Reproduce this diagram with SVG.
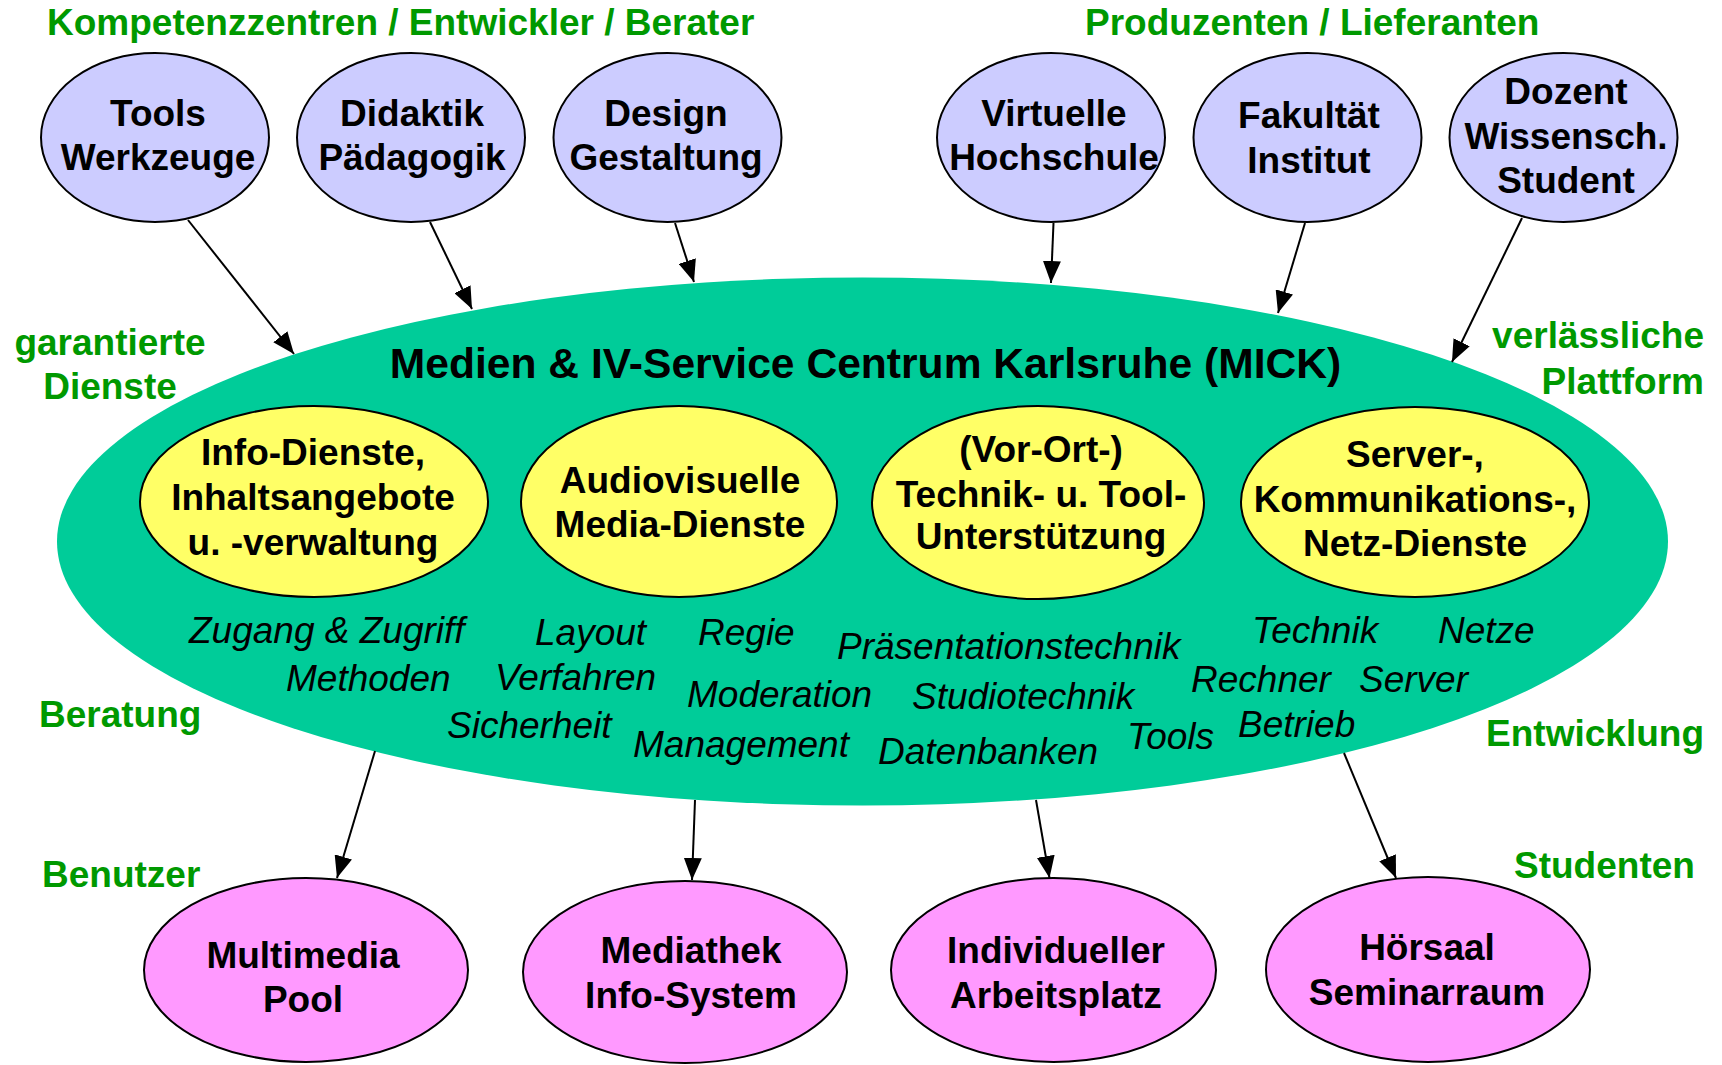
<svg xmlns="http://www.w3.org/2000/svg" width="1722" height="1065" viewBox="0 0 1722 1065">
<style>
.b{font-family:"Liberation Sans",Arial,sans-serif;font-weight:bold;font-size:37px;fill:#000;text-anchor:middle}
.t{font-size:42.6px}
.g{font-family:"Liberation Sans",Arial,sans-serif;font-weight:bold;font-size:37px;fill:#009900}
.i{font-family:"Liberation Sans",Arial,sans-serif;font-style:italic;font-size:37px;fill:#000}
.top{fill:#CCCCFF;stroke:#000;stroke-width:2}
.mid{fill:#FFFF66;stroke:#000;stroke-width:2}
.bot{fill:#FF99FF;stroke:#000;stroke-width:2}
.c line{stroke:#000;stroke-width:2;marker-end:url(#ah)}
</style>
<defs>
<marker id="ah" markerUnits="userSpaceOnUse" markerWidth="22" markerHeight="18" refX="22" refY="9" orient="auto">
<path d="M0,0 L22,9 L0,18 z" fill="#000"/>
</marker>
</defs>
<rect width="1722" height="1065" fill="#fff"/>

<g id="labels">
<text class="g" x="47" y="35">Kompetenzzentren / Entwickler / Berater</text>
<text class="g" x="1085" y="35">Produzenten / Lieferanten</text>
<text class="g" x="110" y="355" text-anchor="middle">garantierte</text>
<text class="g" x="110" y="399" text-anchor="middle">Dienste</text>
<text class="g" x="1704" y="348" text-anchor="end">verlässliche</text>
<text class="g" x="1704" y="394" text-anchor="end">Plattform</text>
<text class="g" x="39" y="727">Beratung</text>
<text class="g" x="1704" y="746" text-anchor="end">Entwicklung</text>
<text class="g" x="42" y="887">Benutzer</text>
<text class="g" x="1514" y="878">Studenten</text>
</g>

<g id="mick">
<ellipse cx="862.5" cy="541.5" rx="805.5" ry="264" fill="#00CC99"/>
<text class="b t" x="865.5" y="378">Medien &amp; IV-Service Centrum Karlsruhe (MICK)</text>
<g id="services">
<text class="i" x="189" y="643">Zugang &amp; Zugriff</text>
<text class="i" x="535" y="645">Layout</text>
<text class="i" x="698" y="645">Regie</text>
<text class="i" x="837" y="659">Präsentationstechnik</text>
<text class="i" x="1252" y="643">Technik</text>
<text class="i" x="1438" y="643">Netze</text>
<text class="i" x="286" y="691">Methoden</text>
<text class="i" x="495" y="690">Verfahren</text>
<text class="i" x="687" y="707">Moderation</text>
<text class="i" x="912" y="709">Studiotechnik</text>
<text class="i" x="1191" y="692">Rechner</text>
<text class="i" x="1359" y="692">Server</text>
<text class="i" x="447" y="738">Sicherheit</text>
<text class="i" x="633" y="757">Management</text>
<text class="i" x="878" y="764">Datenbanken</text>
<text class="i" x="1127" y="749">Tools</text>
<text class="i" x="1238" y="737">Betrieb</text>
</g>
</g>

<g id="info">
<ellipse class="mid" cx="314" cy="501.5" rx="174" ry="95.5"/>
<text class="b" x="313" y="465">Info-Dienste,</text>
<text class="b" x="313" y="510">Inhaltsangebote</text>
<text class="b" x="313" y="555">u. -verwaltung</text>
</g>
<g id="audio">
<ellipse class="mid" cx="679" cy="501.5" rx="158" ry="95.5"/>
<text class="b" x="680" y="493">Audiovisuelle</text>
<text class="b" x="680" y="537">Media-Dienste</text>
</g>
<g id="technik">
<ellipse class="mid" cx="1038" cy="502.5" rx="166" ry="96.5"/>
<text class="b" x="1041" y="462">(Vor-Ort-)</text>
<text class="b" x="1041" y="507">Technik- u. Tool-</text>
<text class="b" x="1041" y="549">Unterstützung</text>
</g>
<g id="server">
<ellipse class="mid" cx="1415" cy="502" rx="174" ry="95"/>
<text class="b" x="1415" y="467">Server-,</text>
<text class="b" x="1415" y="512">Kommunikations-,</text>
<text class="b" x="1415" y="556">Netz-Dienste</text>
</g>

<g id="tools">
<ellipse class="top" cx="155" cy="137.5" rx="114" ry="84.5"/>
<text class="b" x="158" y="126">Tools</text>
<text class="b" x="158" y="170">Werkzeuge</text>
</g>
<g id="didaktik">
<ellipse class="top" cx="411" cy="137.5" rx="114" ry="84.5"/>
<text class="b" x="412" y="126">Didaktik</text>
<text class="b" x="412" y="170">Pädagogik</text>
</g>
<g id="design">
<ellipse class="top" cx="667.5" cy="137.5" rx="114" ry="84.5"/>
<text class="b" x="666" y="126">Design</text>
<text class="b" x="666" y="170">Gestaltung</text>
</g>
<g id="virtuelle">
<ellipse class="top" cx="1051" cy="137.5" rx="114" ry="84.5"/>
<text class="b" x="1054" y="126">Virtuelle</text>
<text class="b" x="1054" y="170">Hochschule</text>
</g>
<g id="fakultaet">
<ellipse class="top" cx="1307.5" cy="137.5" rx="114" ry="84.5"/>
<text class="b" x="1309" y="128">Fakultät</text>
<text class="b" x="1309" y="173">Institut</text>
</g>
<g id="dozent">
<ellipse class="top" cx="1563.5" cy="137.5" rx="114" ry="84.5"/>
<text class="b" x="1566" y="104">Dozent</text>
<text class="b" x="1566" y="149">Wissensch.</text>
<text class="b" x="1566" y="193">Student</text>
</g>

<g id="pool">
<ellipse class="bot" cx="306" cy="970" rx="162" ry="92"/>
<text class="b" x="303" y="968">Multimedia</text>
<text class="b" x="303" y="1012">Pool</text>
</g>
<g id="mediathek">
<ellipse class="bot" cx="685" cy="972" rx="162" ry="91"/>
<text class="b" x="691" y="963">Mediathek</text>
<text class="b" x="691" y="1008">Info-System</text>
</g>
<g id="arbeitsplatz">
<ellipse class="bot" cx="1053.5" cy="970" rx="162.5" ry="92"/>
<text class="b" x="1056" y="963">Individueller</text>
<text class="b" x="1056" y="1008">Arbeitsplatz</text>
</g>
<g id="hoersaal">
<ellipse class="bot" cx="1428" cy="969.5" rx="162" ry="92.5"/>
<text class="b" x="1427" y="960">Hörsaal</text>
<text class="b" x="1427" y="1005">Seminarraum</text>
</g>

<g id="connectors" class="c">
<line x1="188" y1="220" x2="294" y2="354"/>
<line x1="430" y1="222" x2="472" y2="309"/>
<line x1="675" y1="223" x2="694" y2="282"/>
<line x1="1053.5" y1="223" x2="1051" y2="283"/>
<line x1="1305" y1="223" x2="1278" y2="313"/>
<line x1="1522" y1="218" x2="1452" y2="362"/>
<line x1="375" y1="751" x2="337" y2="878"/>
<line x1="695" y1="800" x2="692" y2="880"/>
<line x1="1036" y1="800" x2="1049.5" y2="878"/>
<line x1="1344" y1="753" x2="1396" y2="878"/>
</g>
</svg>
